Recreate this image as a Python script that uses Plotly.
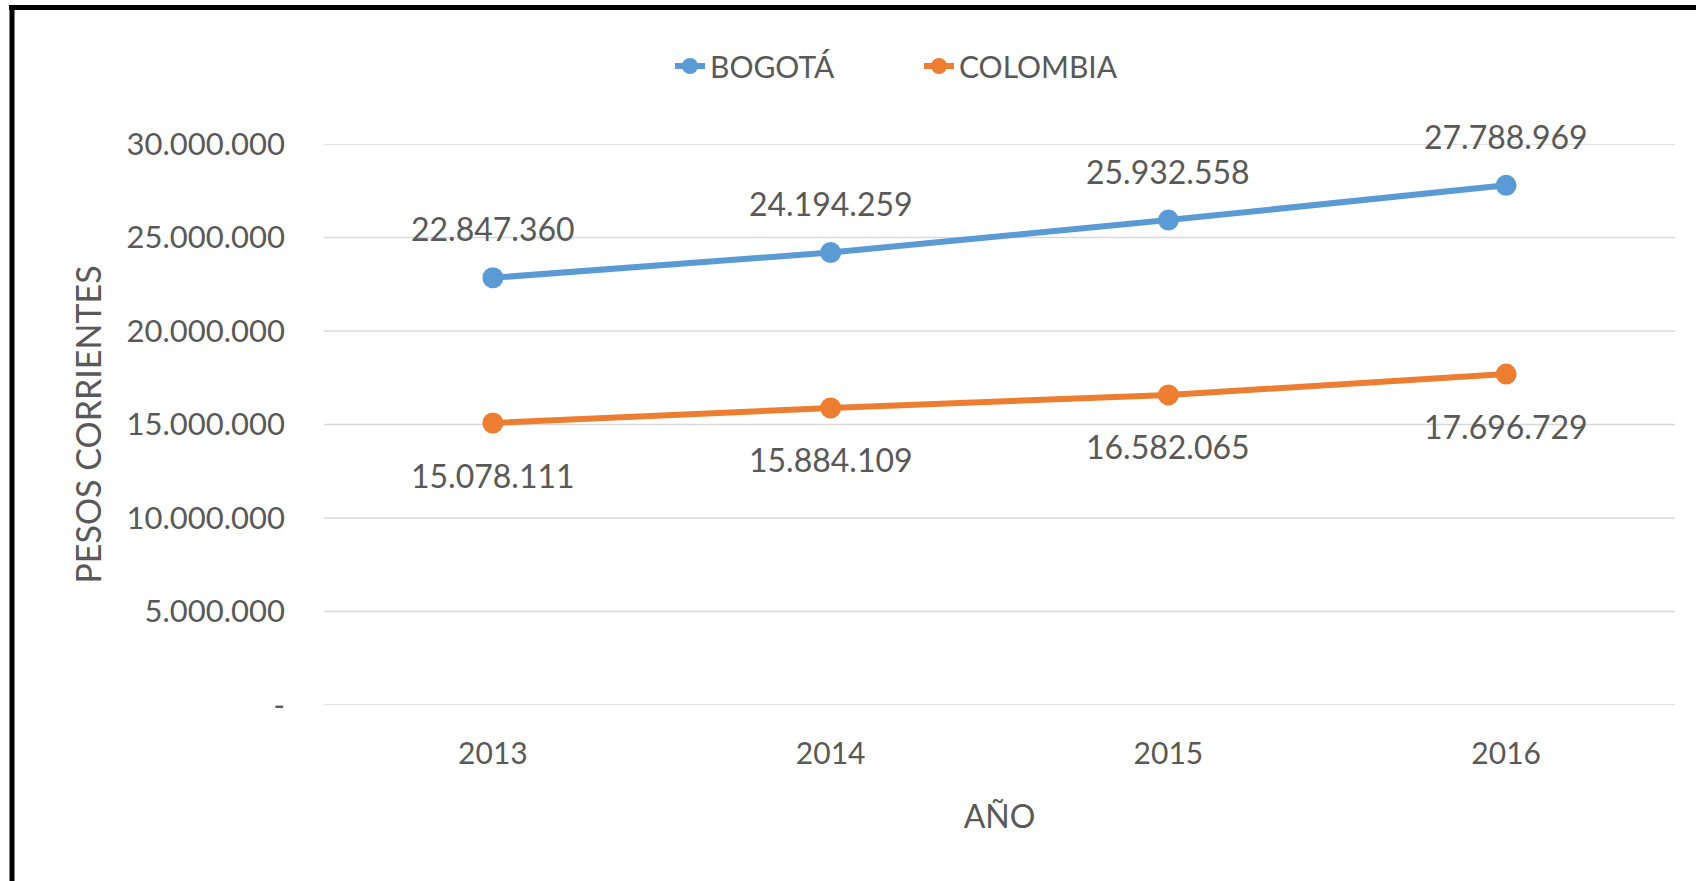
import plotly.graph_objects as go

years = ["2013", "2014", "2015", "2016"]
bogota = [22847360, 24194259, 25932558, 27788969]
colombia = [15078111, 15884109, 16582065, 17696729]
y_tickvals = [0, 5000000, 10000000, 15000000, 20000000, 25000000, 30000000]
y_ticktext = ["-", "5.000.000", "10.000.000", "15.000.000", "20.000.000", "25.000.000", "30.000.000"]

def fmt(v):
    return f"{v:,}".replace(",", ".")

W, H = 1696, 881
L, R, T, B = 324, 21, 144, 176
pw, ph = W - L - R, H - T - B

def px_x(px):
    return (px - L) / pw

def px_y(py):
    return (H - B - py) / ph

FONT = "Lato"
GRAY = "#595959"
BLUE = "#5B9BD5"
ORANGE = "#ED7D31"

fig = go.Figure()
fig.add_trace(go.Scatter(x=years, y=bogota, name="BOGOTÁ", mode="lines+markers",
                         line=dict(color=BLUE, width=6), marker=dict(size=21, color=BLUE)))
fig.add_trace(go.Scatter(x=years, y=colombia, name="COLOMBIA", mode="lines+markers",
                         line=dict(color=ORANGE, width=6), marker=dict(size=21, color=ORANGE)))

annotations = []
for i, yv in enumerate(bogota):
    annotations.append(dict(x=i, y=yv, xref="x", yref="y", text=fmt(yv), showarrow=False,
                            yshift=49, font=dict(family=FONT, size=32, color=GRAY)))
for i, yv in enumerate(colombia):
    annotations.append(dict(x=i, y=yv, xref="x", yref="y", text=fmt(yv), showarrow=False,
                            yshift=-52, font=dict(family=FONT, size=32, color=GRAY)))

shapes = []
for tv in y_tickvals:
    shapes.append(dict(type="line", xref="paper", yref="y", x0=0, x1=1, y0=tv, y1=tv,
                       line=dict(color="#D9D9D9", width=1.5), layer="below"))
shapes += [
    dict(type="line", xref="paper", yref="paper", x0=px_x(9), x1=px_x(W + 5),
         y0=px_y(7.5), y1=px_y(7.5), line=dict(color="black", width=5), layer="above"),
    dict(type="line", xref="paper", yref="paper", x0=px_x(12), x1=px_x(12),
         y0=px_y(5), y1=px_y(H + 5), line=dict(color="black", width=5), layer="above"),
]

fig.update_layout(
    width=W, height=H,
    margin=dict(l=L, r=R, t=T, b=B),
    paper_bgcolor="white", plot_bgcolor="white",
    font=dict(family=FONT, size=30, color=GRAY),
    showlegend=True,
    legend=dict(orientation="h", x=px_x(670), xanchor="left", y=px_y(66), yanchor="middle",
                font=dict(family=FONT, size=30, color=GRAY), bgcolor="rgba(0,0,0,0)",
                entrywidth=204, entrywidthmode="pixels", tracegroupgap=0),
    xaxis=dict(type="category", range=[-0.5, 3.5], showgrid=False, showline=False, zeroline=False,
               ticks="", ticklabelstandoff=28,
               tickfont=dict(family=FONT, size=30, color=GRAY),
               title=dict(text="AÑO", standoff=36, font=dict(family=FONT, size=32, color=GRAY))),
    yaxis=dict(range=[0, 30000000], tickvals=y_tickvals, ticktext=y_ticktext,
               showgrid=False, zeroline=False, showline=False,
               ticks="", ticklabelstandoff=38,
               tickfont=dict(family=FONT, size=31, color=GRAY),
               title=dict(text="PESOS CORRIENTES", standoff=14, font=dict(family=FONT, size=34, color=GRAY))),
    annotations=annotations,
    shapes=shapes,
)

fig.write_html("out.html", config={"displayModeBar": False},
               post_script="document.body.style.margin='0';document.body.style.overflow='hidden';")
